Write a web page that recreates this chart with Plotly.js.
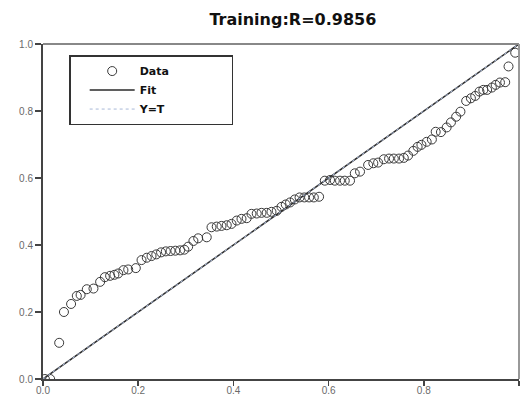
<!DOCTYPE html>
<html>
<head>
<meta charset="utf-8">
<script src="https://cdn.plot.ly/plotly-3.0.1.min.js"></script>
<style>html,body{margin:0;padding:0;background:#fff;}#chart{width:522px;height:396px;}</style>
</head>
<body>
<div id="chart"></div>
<script>
// Data points (target vs output)
const dataX = [0.004,0.015,0.034,0.044,0.059,0.071,0.079,0.092,0.106,0.12,0.13,0.141,0.15,0.158,0.169,0.179,0.195,0.207,0.218,0.228,0.238,0.248,0.258,0.268,0.278,0.288,0.297,0.305,0.316,0.326,0.344,0.354,0.365,0.375,0.386,0.396,0.407,0.417,0.428,0.438,0.449,0.459,0.47,0.48,0.491,0.501,0.51,0.519,0.529,0.539,0.549,0.559,0.569,0.58,0.592,0.603,0.613,0.624,0.634,0.645,0.655,0.666,0.683,0.694,0.704,0.716,0.727,0.737,0.748,0.758,0.767,0.778,0.787,0.795,0.806,0.817,0.825,0.836,0.848,0.857,0.868,0.877,0.889,0.899,0.908,0.917,0.925,0.933,0.943,0.951,0.96,0.971,0.978,0.992];
const dataY = [0.0,0.0,0.108,0.2,0.224,0.248,0.251,0.268,0.27,0.29,0.304,0.308,0.311,0.315,0.325,0.327,0.331,0.355,0.362,0.367,0.372,0.378,0.381,0.382,0.383,0.384,0.386,0.395,0.412,0.42,0.423,0.453,0.455,0.457,0.459,0.463,0.473,0.478,0.48,0.493,0.494,0.496,0.496,0.499,0.502,0.514,0.521,0.527,0.536,0.542,0.542,0.542,0.542,0.544,0.592,0.594,0.592,0.592,0.592,0.592,0.614,0.619,0.639,0.644,0.646,0.656,0.658,0.658,0.658,0.66,0.667,0.681,0.693,0.699,0.708,0.715,0.738,0.737,0.751,0.766,0.783,0.798,0.83,0.838,0.845,0.858,0.863,0.863,0.87,0.878,0.885,0.886,0.933,0.974];
const fitX = [0, 1];
const fitY = [0, 1];
const ytX = [0, 1];
const ytY = [0, 1];
const tickVals = [0, 0.2, 0.4, 0.6, 0.8, 1.0];
const tickText = ['0.0', '0.2', '0.4', '0.6', '0.8', '1.0'];
const pad = '\u00A0'.repeat(15);

const traces = [
  {x: dataX, y: dataY, type: 'scatter', mode: 'markers', name: 'Data' + pad,
   marker: {symbol: 'circle-open', size: 9, color: '#3a3a3a', line: {width: 1, color: '#3a3a3a'}}},
  {x: fitX, y: fitY, type: 'scatter', mode: 'lines', name: 'Fit',
   line: {color: '#2a2a2a', width: 1.5}},
  {x: ytX, y: ytY, type: 'scatter', mode: 'lines', name: 'Y=T',
   line: {color: '#a8b8d8', width: 1, dash: 'dot'}}
];

const axisCommon = {
  range: [0, 1], tickvals: tickVals, ticktext: tickText,
  showgrid: false, zeroline: false, showline: true, linecolor: '#444', linewidth: 2,
  ticks: 'outside', ticklen: 6, tickwidth: 1.5, tickcolor: '#444',
  tickfont: {family: 'Liberation Sans, Arial, sans-serif', size: 10, color: '#6a6a6a'}
};

const layout = {
  width: 522, height: 396,
  margin: {l: 43, r: 3, t: 44, b: 17},
  paper_bgcolor: '#fff', plot_bgcolor: '#fff',
  title: {text: '<b>Training:R=0.9856</b>', x: 0.561, xref: 'container', xanchor: 'center',
          y: 0.95, yref: 'container', yanchor: 'middle',
          font: {family: 'DejaVu Sans, Verdana, sans-serif', size: 16, color: '#111'}},
  xaxis: Object.assign({}, axisCommon, {ticklen: 5, ticklabelstandoff: -4}),
  yaxis: Object.assign({}, axisCommon),
  showlegend: true,
  legend: {x: 0.055, y: 0.967, xanchor: 'left', yanchor: 'top',
           bordercolor: '#333', borderwidth: 1.5, bgcolor: '#fff',
           indentation: 14, itemwidth: 45,
           font: {family: 'DejaVu Sans, Verdana, sans-serif', size: 11, color: '#111', weight: 'bold'},
           tracegroupgap: 0},
  shapes: [
    {type: 'line', xref: 'paper', yref: 'paper', x0: 0, x1: 1, y0: 1, y1: 1, line: {color: '#888', width: 2}},
    {type: 'line', xref: 'paper', yref: 'paper', x0: 1, x1: 1, y0: 0, y1: 1, line: {color: '#999', width: 2}}
  ]
};

Plotly.newPlot('chart', traces, layout, {displayModeBar: false, staticPlot: true});
</script>
</body>
</html>
